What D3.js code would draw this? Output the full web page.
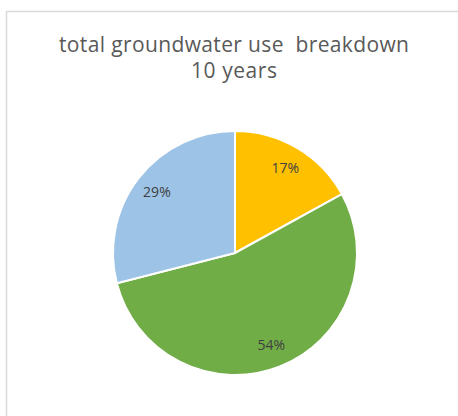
<!DOCTYPE html>
<html>
<head>
<meta charset="utf-8">
<script src="https://cdn.jsdelivr.net/npm/d3@7"></script>
<style>
  html, body { margin: 0; padding: 0; background: #fff; }
  svg { display: block; }
  text { white-space: pre; }
</style>
</head>
<body>
<svg id="chart" width="458" height="416"></svg>
<script>
// Share of total groundwater use over 10 years
const categories = ["Category A", "Category B", "Category C"];
const shares = [17, 54, 29];
const colors = ["#FFC000", "#70AD47", "#9DC3E6"];
const titleLines = ["total groundwater use  breakdown", "10 years"];

const width = 458, height = 416;
const cx = 235, cy = 253, radius = 122;
const fontFamily = "'Open Sans', 'Noto Sans', 'Liberation Sans', sans-serif";

const svg = d3.select("#chart");

// Chart area frame
svg.append("rect")
  .attr("x", 6.5).attr("y", 11.5)
  .attr("width", width + 20).attr("height", height + 20)
  .attr("fill", "#fff")
  .attr("stroke", "#D9D9D9")
  .attr("stroke-width", 1.5);

// Two-line title
const titleY = [52, 78];
const titleWidths = [350, 86];
svg.append("g")
  .selectAll("text")
  .data(titleLines)
  .join("text")
  .attr("x", 234)
  .attr("y", (d, i) => titleY[i])
  .attr("text-anchor", "middle")
  .attr("font-family", fontFamily)
  .attr("font-size", 21)
  .attr("fill", "#595959")
  .attr("textLength", (d, i) => titleWidths[i])
  .attr("lengthAdjust", "spacing")
  .text(d => d);

// Pie
const data = categories.map((c, i) => ({ name: c, value: shares[i], color: colors[i] }));
const pie = d3.pie().value(d => d.value).sort(null);
const arc = d3.arc().innerRadius(0).outerRadius(radius);
const labelArc = d3.arc().innerRadius(radius * 0.81).outerRadius(radius * 0.81);
const arcs = pie(data);

const g = svg.append("g").attr("transform", `translate(${cx},${cy})`);

g.selectAll("path")
  .data(arcs)
  .join("path")
  .attr("d", arc)
  .attr("fill", d => d.data.color)
  .attr("stroke", "#fff")
  .attr("stroke-width", 2)
  .attr("stroke-linejoin", "round");

g.selectAll("text.label")
  .data(arcs)
  .join("text")
  .attr("class", "label")
  .attr("transform", d => `translate(${labelArc.centroid(d)})`)
  .attr("text-anchor", "middle")
  .attr("dy", "0.35em")
  .attr("font-family", fontFamily)
  .attr("font-size", 14)
  .attr("fill", "#404040")
  .text(d => d.data.value + "%");
</script>
</body>
</html>
